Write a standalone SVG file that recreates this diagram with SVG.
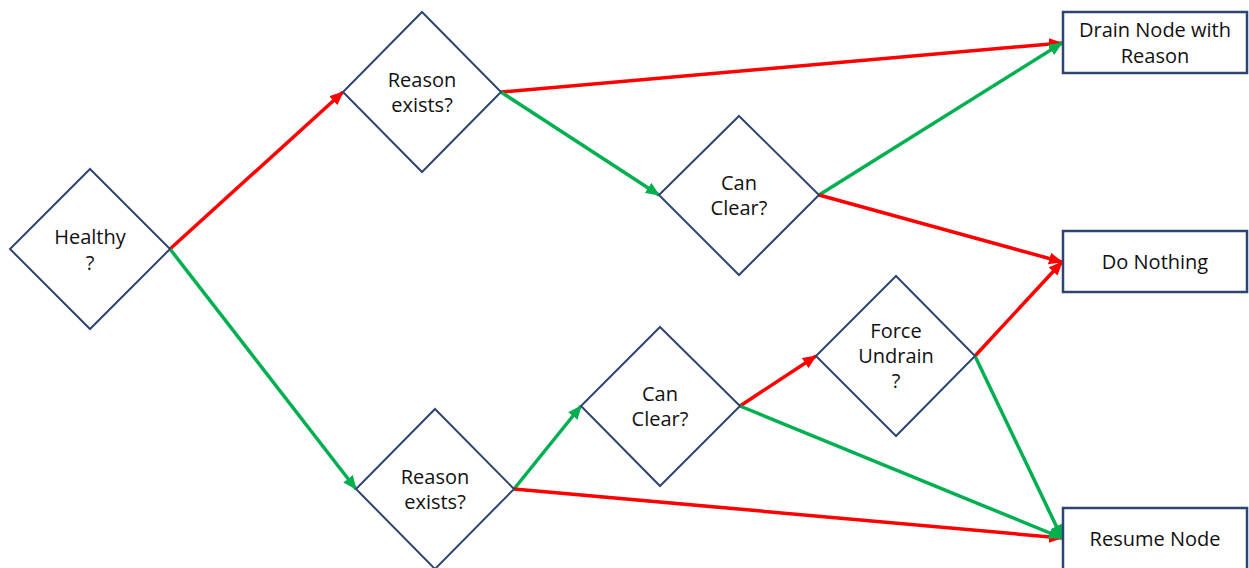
<svg xmlns="http://www.w3.org/2000/svg" width="1249" height="568" viewBox="0 0 1249 568">
  <style>
    .dec { fill: #ffffff; stroke: #2f4571; stroke-width: 2; }
    .box { fill: #ffffff; stroke: #2f4571; stroke-width: 2.5; }
    .lbl { font-family: "Open Sans", "Liberation Sans", sans-serif; font-size: 20px; fill: #111111; text-anchor: middle; }
    .no { stroke: #ff0000; stroke-width: 3.5; fill: none; marker-end: url(#head-red); }
    .yes { stroke: #00b050; stroke-width: 3.5; fill: none; marker-end: url(#head-green); }
  </style>
  <defs>
    <marker id="head-red" viewBox="0 0 14 12" refX="13" refY="6" markerWidth="14" markerHeight="12" markerUnits="userSpaceOnUse" orient="auto">
      <path d="M0,0 L14,6 L0,12 Z" fill="#ff0000"/>
    </marker>
    <marker id="head-green" viewBox="0 0 14 12" refX="13" refY="6" markerWidth="14" markerHeight="12" markerUnits="userSpaceOnUse" orient="auto">
      <path d="M0,0 L14,6 L0,12 Z" fill="#00b050"/>
    </marker>
  </defs>

  <!-- connectors: red = no, green = yes -->
  <g id="connectors">
    <line class="no" x1="170" y1="249" x2="343" y2="92"/>
    <line class="yes" x1="170" y1="249" x2="356" y2="489"/>
    <line class="no" x1="501" y1="92" x2="1062" y2="43"/>
    <line class="yes" x1="501" y1="92" x2="659" y2="195"/>
    <line class="yes" x1="819" y1="195" x2="1062" y2="43"/>
    <line class="no" x1="819" y1="195" x2="1062" y2="262"/>
    <line class="yes" x1="514" y1="489" x2="581" y2="406"/>
    <line class="no" x1="514" y1="489" x2="1062" y2="538"/>
    <line class="no" x1="740" y1="406" x2="816" y2="356"/>
    <line class="yes" x1="740" y1="406" x2="1062" y2="538"/>
    <line class="no" x1="975" y1="356" x2="1062" y2="262"/>
    <line class="yes" x1="975" y1="356" x2="1062" y2="538"/>
  </g>

  <g id="healthy">
    <polygon class="dec" points="90,169 170,249 90,329 10,249"/>
    <text class="lbl" x="90" y="244">Healthy</text>
    <text class="lbl" x="90" y="270">?</text>
  </g>

  <g id="reason-top">
    <polygon class="dec" points="422,12 501,92 422,172 343,92"/>
    <text class="lbl" x="422" y="87">Reason</text>
    <text class="lbl" x="422" y="112">exists?</text>
  </g>

  <g id="clear-top">
    <polygon class="dec" points="739,116 819,195 739,275 659,195"/>
    <text class="lbl" x="739" y="190">Can</text>
    <text class="lbl" x="739" y="215">Clear?</text>
  </g>

  <g id="reason-bottom">
    <polygon class="dec" points="435,409 514,489 435,569 356,489"/>
    <text class="lbl" x="435" y="484">Reason</text>
    <text class="lbl" x="435" y="509">exists?</text>
  </g>

  <g id="clear-bottom">
    <polygon class="dec" points="660,327 740,406 660,486 581,406"/>
    <text class="lbl" x="660" y="401">Can</text>
    <text class="lbl" x="660" y="426">Clear?</text>
  </g>

  <g id="force-undrain">
    <polygon class="dec" points="896,276 975,356 896,436 816,356"/>
    <text class="lbl" x="896" y="338">Force</text>
    <text class="lbl" x="896" y="363">Undrain</text>
    <text class="lbl" x="896" y="388">?</text>
  </g>

  <g id="drain-node">
    <rect class="box" x="1063" y="12" width="184" height="61"/>
    <text class="lbl" x="1155" y="37">Drain Node with</text>
    <text class="lbl" x="1155" y="63">Reason</text>
  </g>

  <g id="do-nothing">
    <rect class="box" x="1063" y="231" width="184" height="61"/>
    <text class="lbl" x="1155" y="269">Do Nothing</text>
  </g>

  <g id="resume-node">
    <rect class="box" x="1063" y="508" width="184" height="62"/>
    <text class="lbl" x="1155" y="546">Resume Node</text>
  </g>
</svg>
